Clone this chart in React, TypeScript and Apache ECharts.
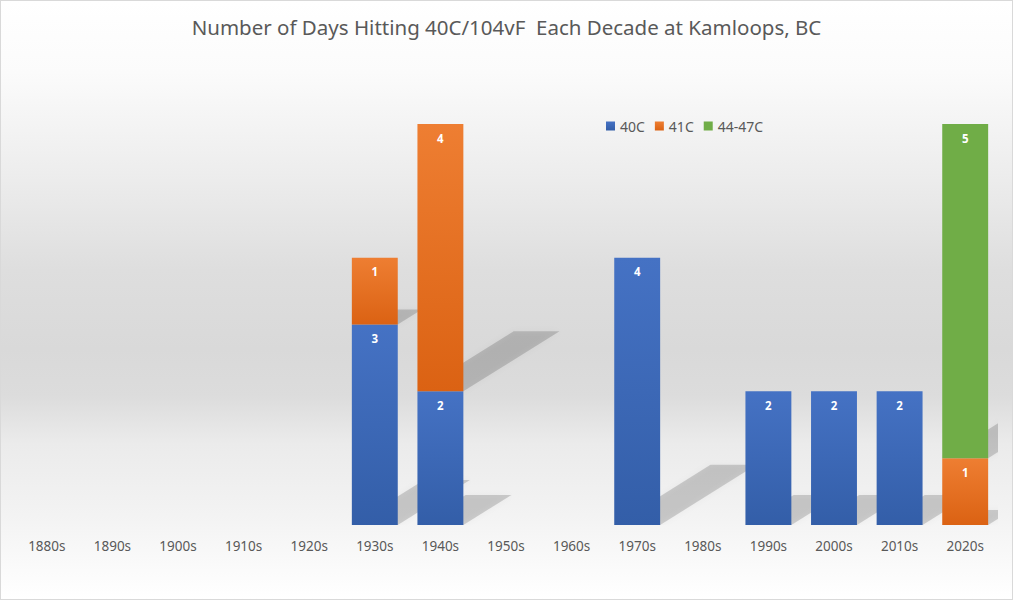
import React, { useEffect, useRef } from "react";
import * as echarts from "echarts";

const categories = ["1880s", "1890s", "1900s", "1910s", "1920s", "1930s", "1940s", "1950s", "1960s", "1970s", "1980s", "1990s", "2000s", "2010s", "2020s"];
const days40C = [0, 0, 0, 0, 0, 3, 2, 0, 0, 4, 0, 2, 2, 2, 0];
const days41C = [0, 0, 0, 0, 0, 1, 4, 0, 0, 0, 0, 0, 0, 0, 1];
const days44to47C = [0, 0, 0, 0, 0, 0, 0, 0, 0, 0, 0, 0, 0, 0, 5];
const seriesNames = ["40C", "41C", "44-47C"];
const titleText = "Number of Days Hitting 40C/104vF  Each Decade at Kamloops, BC";

const grad = (top: string, bottom: string) =>
  new echarts.graphic.LinearGradient(0, 0, 0, 1, [
    { offset: 0, color: top },
    { offset: 1, color: bottom },
  ]);

export default function App() {
  const ref = useRef<HTMLDivElement>(null);
  useEffect(() => {
    if (!ref.current) return;
    const chart = echarts.init(ref.current, null, { renderer: "svg" });

    // segments for shadow: [cat, bottom, top]
    const segs: number[][] = [];
    const all = [days40C, days41C, days44to47C];
    categories.forEach((_, i) => {
      let base = 0;
      all.forEach((arr) => {
        if (arr[i] > 0) segs.push([i, base, base + arr[i]]);
        base += arr[i];
      });
    });

    const label = {
      show: true,
      position: "insideTop" as const,
      distance: 8,
      color: "#ffffff",
      fontSize: 11.5,
      fontWeight: "bold" as const,
      fontFamily: "Noto Sans",
      formatter: (p: any) => (p.value ? String(p.value) : ""),
    };

    chart.setOption({
      animation: false,
      backgroundColor: "transparent",
      title: {
        text: titleText,
        left: "center",
        top: 11,
        textStyle: { fontFamily: "Noto Sans", fontSize: 20.5, fontWeight: "normal", color: "#595959" },
      },
      legend: {
        data: seriesNames,
        left: 601,
        top: 114,
        itemWidth: 9,
        itemHeight: 9,
        itemGap: 10,
        icon: "rect",
        textStyle: { fontFamily: "Noto Sans", fontSize: 14, color: "#595959" },
      },
      grid: { left: 14, right: 15, top: 124, bottom: 75 },
      xAxis: {
        type: "category",
        data: categories,
        axisLine: { show: false },
        axisTick: { show: false },
        axisLabel: { color: "#595959", fontSize: 13.5, fontFamily: "Noto Sans", margin: 14 },
      },
      yAxis: { type: "value", min: 0, max: 6, show: false, splitLine: { show: false } },
      series: [
        {
          type: "custom",
          name: "shadow",
          clip: true,
          z: 1,
          silent: true,
          renderItem: (params: any, api: any) => {
            const i = api.value(0);
            const b = api.coord([i, api.value(1)]);
            const t = api.coord([i, api.value(2)]);
            const w = api.size([1, 0])[0] * 0.7;
            const h = b[1] - t[1];
            const xl = b[0] - w / 2;
            const xr = b[0] + w / 2;
            const dy = h * 0.225;
            const dx = h * 0.36;
            return {
              type: "polygon",
              shape: {
                points: [
                  [xl, b[1]],
                  [xr, b[1]],
                  [xr + dx, b[1] - dy],
                  [xl + dx, b[1] - dy],
                ],
              },
              style: { fill: "rgba(0,0,0,0.16)", shadowBlur: 6, shadowColor: "rgba(0,0,0,0.2)" },
            };
          },
          data: segs,
          encode: { x: 0, y: 2 },
        },
        {
          name: seriesNames[0],
          type: "bar",
          stack: "t",
          z: 3,
          barCategoryGap: "30%",
          itemStyle: { color: grad("#4572c4", "#335ea8") },
          label,
          data: days40C,
        },
        {
          name: seriesNames[1],
          type: "bar",
          stack: "t",
          z: 3,
          itemStyle: { color: grad("#ee7e32", "#db6213") },
          label,
          data: days41C,
        },
        {
          name: seriesNames[2],
          type: "bar",
          stack: "t",
          z: 3,
          itemStyle: { color: "#70ad47" },
          label,
          data: days44to47C,
        },
      ],
    });
    return () => chart.dispose();
  }, []);

  return (
    <div
      style={{
        position: "fixed",
        left: 0,
        top: 0,
        width: 1013,
        height: 600,
        boxSizing: "border-box",
        border: "1px solid #d9d9d9",
        background:
          "linear-gradient(to bottom, #ffffff 0%, #fbfbfb 12%, #ececec 30%, #dedede 45%, #d9d9d9 58%, #dcdcdc 66%, #ebebeb 74%, #f3f3f3 86%, #ffffff 100%)",
      }}
    >
      <div ref={ref} style={{ position: "absolute", left: -1, top: -1, width: 1013, height: 600 }} />
    </div>
  );
}
